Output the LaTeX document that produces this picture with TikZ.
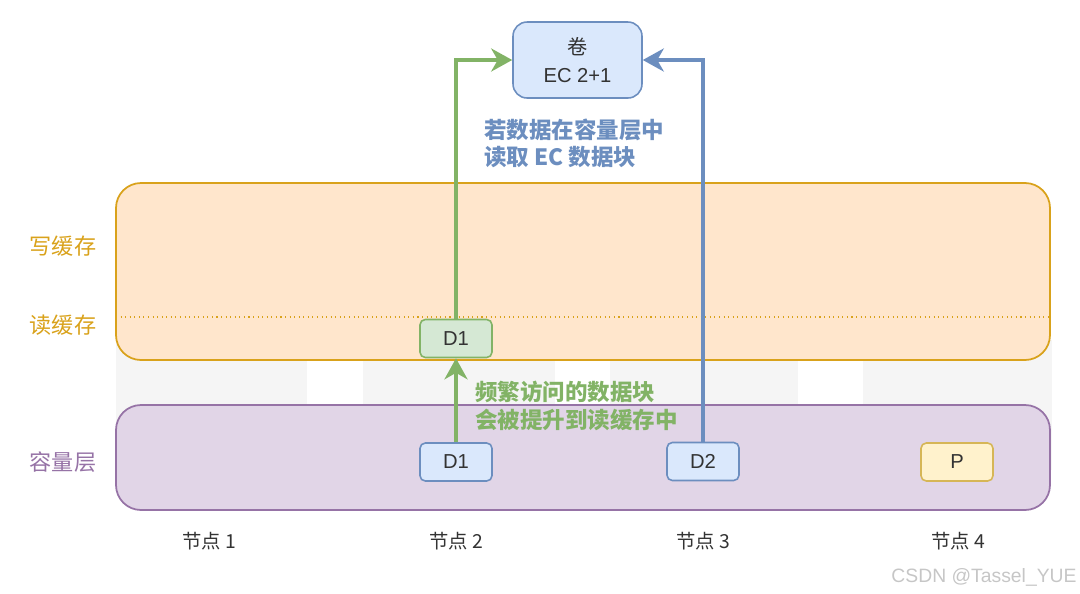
\documentclass[tikz,border=0pt]{standalone}
\usepackage{fontspec}
\setmainfont{Liberation Sans}
\newfontfamily\cjk{Noto Sans CJK SC}
\usetikzlibrary{arrows.meta,positioning,backgrounds}
\definecolor{Ink}{HTML}{333333}
\definecolor{BlueFill}{HTML}{DAE8FC}
\definecolor{BlueLine}{HTML}{6C8EBF}
\definecolor{GreenFill}{HTML}{D5E8D4}
\definecolor{GreenLine}{HTML}{82B366}
\definecolor{YellowFill}{HTML}{FFF2CC}
\definecolor{YellowLine}{HTML}{D6B656}
\definecolor{OrangeFill}{HTML}{FFE6CC}
\definecolor{OrangeLine}{HTML}{D9A21B}
\definecolor{PurpleFill}{HTML}{E1D5E7}
\definecolor{PurpleLine}{HTML}{9673A6}
\definecolor{ColGray}{HTML}{F5F5F5}

\tikzset{
  blockbox/.style={draw=#1Line, fill=#1Fill, line width=0.9pt, rounded corners=3pt,
    minimum width=1.44cm, minimum height=0.76cm, text=Ink, font=\fontsize{11.5}{13}\selectfont},
  band/.style={draw=#1Line, fill=#1Fill, line width=1pt, rounded corners=0.5cm},
  layerlabel/.style={text=#1Line, font=\cjk\fontsize{12.6}{14}\selectfont},
  hostlabel/.style={text=Ink, font=\cjk\fontsize{11}{13}\selectfont},
  flow/.style={draw=#1Line, line width=2.6pt, -{Stealth[length=4.2mm,width=4.6mm,inset=1.3mm]}},
  note/.style={text=#1Line, align=left, font=\cjk\bfseries\fontsize{12.8}{15.5}\selectfont}
}

\begin{document}
\begin{tikzpicture}[x=0.02cm, y=-0.02cm]
  \useasboundingbox (0,0) rectangle (1080,593);

  % node columns
  \foreach \xa/\xb in {116/307, 363/555, 610/798, 863/1052}
    \fill[ColGray] (\xa,340) rectangle (\xb,470);

  % layers
  \draw[band=Orange] (116,183) rectangle (1050,360);
  \draw[OrangeLine, dotted, line width=0.6pt] (116,317) -- (1050,317);
  \draw[band=Purple] (116,405) rectangle (1050,510);

  \node[layerlabel=Orange] (wcache) at (63,246) {写缓存};
  \node[layerlabel=Orange] (rcache) at (63,325) {读缓存};
  \node[layerlabel=Purple] (cap) at (63,462) {容量层};

  % volume
  \node[draw=BlueLine, fill=BlueFill, line width=0.9pt, rounded corners=8pt,
    minimum width=2.58cm, minimum height=1.52cm, align=center, text=Ink,
    font=\fontsize{11.5}{16}\selectfont] (vol) at (577.5,60) {{\cjk 卷}\\EC 2+1};

  % blocks
  \node[blockbox=Green] (d1c) at (456,338.5) {D1};
  \node[blockbox=Blue] (d1v) at (456,462) {D1};
  \node[blockbox=Blue] (d2) at (703,461.5) {D2};
  \node[blockbox=Yellow] (par) at (957,462) {P};

  % hosts
  \node[hostlabel] (h1) at (209,541) {节点 1};
  \node[hostlabel] (h2) at (456,541) {节点 2};
  \node[hostlabel] (h3) at (703,541) {节点 3};
  \node[hostlabel] (h4) at (958,541) {节点 4};

  % reads
  \draw[flow=Green] (d1c.north) |- (vol.west);
  \draw[flow=Blue] (d2.north) |- (vol.east);
  \draw[flow=Green] (d1v.north) -- (d1c.south);

  \node[note=Blue, anchor=west] (ecnote) at (478,143) {若数据在容量层中\\读取 EC 数据块};
  \node[note=Green, anchor=west] (hotnote) at (469,406) {频繁访问的数据块\\会被提升到读缓存中};

  \node[text=gray!45, font=\fontsize{11}{13}\selectfont] (mark) at (984,577) {CSDN @Tassel\_YUE};
\end{tikzpicture}
\end{document}
